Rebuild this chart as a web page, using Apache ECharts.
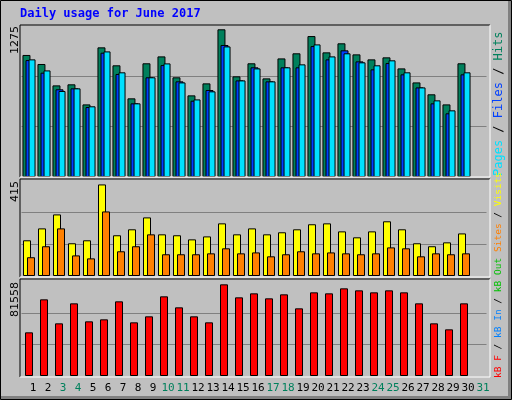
<!DOCTYPE html>
<html><head><meta charset="utf-8">
<script src="https://cdn.jsdelivr.net/npm/echarts@6/dist/echarts.min.js"></script>
<style>html,body{margin:0;padding:0;background:#c0c0c0}#c{width:512px;height:400px}</style>
</head><body><div id="c"></div>
<script>
const days = ['1','2','3','4','5','6','7','8','9','10','11','12','13','14','15','16','17','18','19','20','21','22','23','24','25','26','27','28','29','30','31'];
const weekend = ['3','4','10','11','17','18','24','25','31'];
const hits  = [1027,951,771,780,611,1091,940,662,957,1015,839,687,788,1243,847,957,830,998,1041,1186,1049,1125,1032,990,1007,914,796,696,611,957,null];
const files = [984,878,738,746,589,1046,867,620,839,942,805,642,732,1111,813,923,805,923,923,1102,990,1066,973,906,959,864,754,620,536,864,null];
const pages = [990,897,724,746,595,1057,881,620,839,956,796,653,721,1099,813,914,805,923,948,1116,1015,1041,965,940,982,881,754,645,561,881,null];
const visits= [156,208,269,143,156,400,178,204,256,182,178,160,173,230,182,208,182,191,204,226,230,195,169,195,239,204,143,130,147,186,null];
const sites = [82,130,208,90,77,282,108,130,182,95,95,95,99,121,99,103,86,95,108,99,103,99,95,99,125,121,86,99,95,99,null];
const kbytes= [37886,66516,45694,63046,47430,49164,64780,46562,51768,69120,59576,51768,46562,79530,68252,71722,67384,70855,58708,72590,71722,76060,74325,72590,74325,72590,63046,45694,40489,63046,null];
const maxLabels = ['1275','415','81558'];
const maxVals = [1275,415,81558];
const title = 'Daily usage for June 2017';

const F = 'DejaVu Sans Mono';
const grids = [
  {left:21.5,width:465,top:25.5,height:151.5},
  {left:21.5,width:465,top:181,height:95},
  {left:21.5,width:465,top:282,height:94}
];
const split = {show:true,lineStyle:{color:['transparent','#808080','#808080','transparent'],width:1}};
const yAxes = maxVals.map((m,i)=>({gridIndex:i,type:'value',min:0,max:m,interval:m/3,axisLabel:{show:false},axisLine:{show:false},axisTick:{show:false},splitLine:split}));
const xAxes = [0,1,2].map(i=>({gridIndex:i,type:'category',data:days,axisLine:{show:false},axisTick:{show:false},
  axisLabel: i<2?{show:false}:{show:true,interval:0,fontFamily:F,fontSize:11,margin:7,padding:[0,0,0,8],
    color:(v)=>weekend.includes(v)?'#00805c':'#000'}}));
const bs = {borderColor:'#000',borderWidth:1};
const series = [
  {type:'bar',xAxisIndex:0,yAxisIndex:0,data:hits,barWidth:8,barGap:'-62%',itemStyle:{color:'#00805c',...bs},animation:false},
  {type:'bar',xAxisIndex:0,yAxisIndex:0,data:files,barWidth:8,barGap:'-62%',itemStyle:{color:'#0040ff',...bs},animation:false},
  {type:'bar',xAxisIndex:0,yAxisIndex:0,data:pages,barWidth:7,barGap:'-62%',itemStyle:{color:'#00e0ff',...bs},animation:false},
  {type:'bar',xAxisIndex:1,yAxisIndex:1,data:visits,barWidth:8,barGap:'-50%',itemStyle:{color:'#ffff00',...bs},animation:false},
  {type:'bar',xAxisIndex:1,yAxisIndex:1,data:sites,barWidth:8,barGap:'-50%',itemStyle:{color:'#ff8000',...bs},animation:false},
  {type:'bar',xAxisIndex:2,yAxisIndex:2,data:kbytes,barWidth:8,itemStyle:{color:'#ff0000',...bs},animation:false}
];
function frame(y0,y1){return [
  {type:'line',shape:{x1:20,y1:y0,x2:490,y2:y0},style:{stroke:'#000',lineWidth:1},z:10},
  {type:'line',shape:{x1:20,y1:y0,x2:20,y2:y1},style:{stroke:'#000',lineWidth:1},z:10},
  {type:'line',shape:{x1:20,y1:y1,x2:490,y2:y1},style:{stroke:'#fff',lineWidth:1},z:10},
  {type:'line',shape:{x1:490,y1:y0,x2:490,y2:y1},style:{stroke:'#fff',lineWidth:1},z:10}];}
const t12 = {fontFamily:F,fontSize:12};
const t9 = {fontFamily:F,fontSize:9.5};
const graphic = [
  {type:'rect',shape:{x:0.5,y:0.5,width:511,height:399},style:{fill:'none',stroke:'#000',lineWidth:1},z:-1},
  {type:'rect',shape:{x:508,y:1,width:3,height:398},style:{fill:'#808080'},z:-1},
  {type:'rect',shape:{x:1,y:396,width:510,height:3},style:{fill:'#808080'},z:-1},
  {type:'text',left:20,top:8,style:{text:title,fontFamily:F,fontSize:12,fontWeight:'bold',fill:'#0000ff'}},
  ...frame(25,177),...frame(179,277),...frame(279,377),
  ...[25,180,281].map((y,i)=>({type:'text',x:15,y:y+1,rotation:Math.PI/2,style:{text:maxLabels[i],fontFamily:'DejaVu Sans',fontSize:11,fill:'#000',align:'right',verticalAlign:'middle'}})),
  {type:'text',x:499,y:176,rotation:Math.PI/2,style:{text:'{a|Pages} / {b|Files} / {c|Hits}',align:'left',verticalAlign:'middle',...t12,rich:{a:{...t12,fill:'#00e0ff'},b:{...t12,fill:'#0040ff'},c:{...t12,fill:'#00805c'}}}},
  {type:'text',x:499,y:252,rotation:Math.PI/2,style:{text:'{d|Sites} / {e|Visits}',align:'left',verticalAlign:'middle',...t9,rich:{d:{...t9,fill:'#ff8000'},e:{...t9,fill:'#ffff00'}}}},
  {type:'text',x:499,y:378,rotation:Math.PI/2,style:{text:'{a|kB F} / {b|kB In} / {c|kB Out}',align:'left',verticalAlign:'middle',...t9,rich:{a:{...t9,fill:'#ff0000'},b:{...t9,fill:'#0080ff'},c:{...t9,fill:'#00c000'}}}}
];
const chart = echarts.init(document.getElementById('c'));
chart.setOption({backgroundColor:'#c0c0c0',animation:false,grid:grids,xAxis:xAxes,yAxis:yAxes,series,graphic});
</script></body></html>
